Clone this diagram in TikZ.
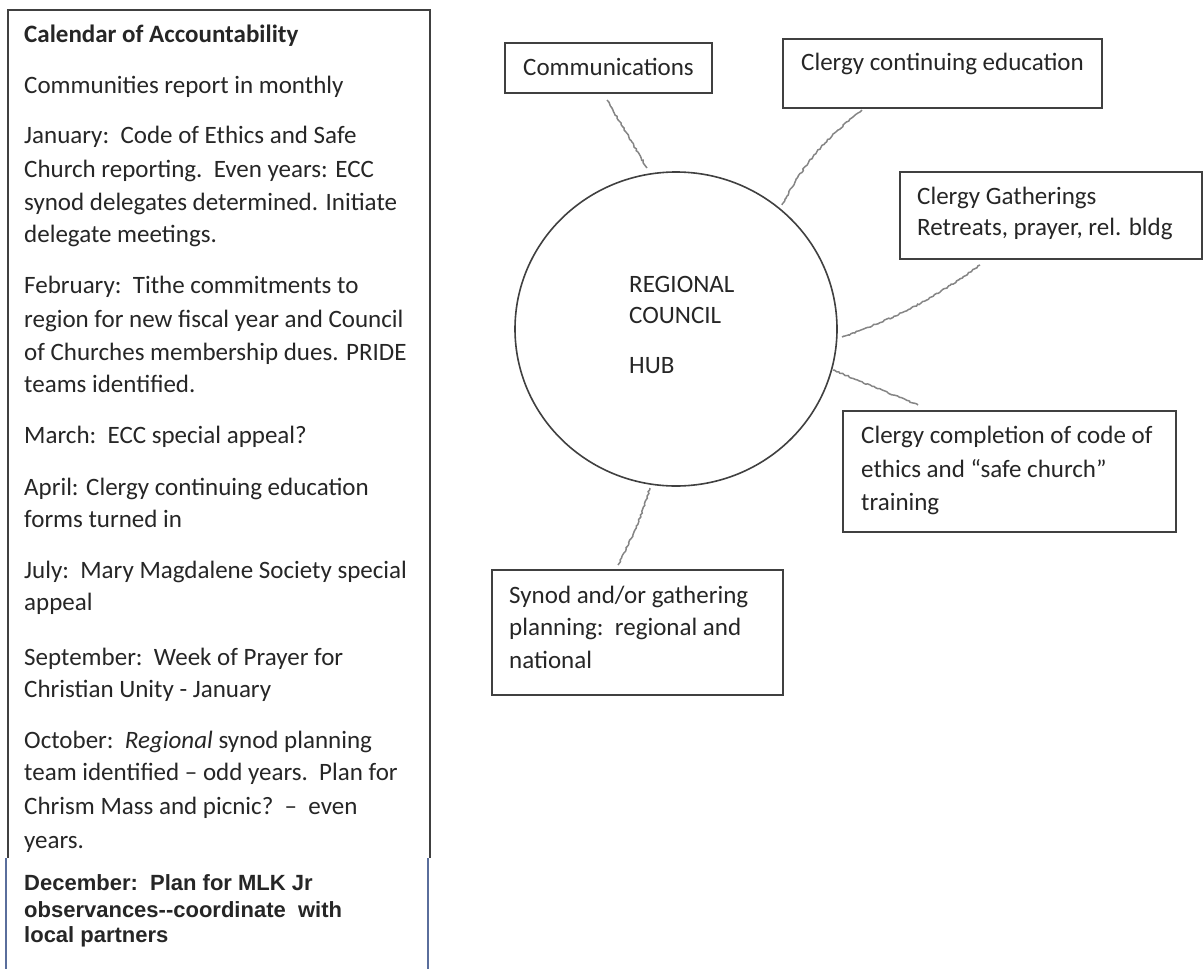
\documentclass[tikz,border=0pt]{standalone}
\usepackage{fontspec}
\setmainfont{Carlito}
\newfontfamily\arialfont{Liberation Sans}
\usetikzlibrary{shapes.geometric,decorations.pathmorphing}
\definecolor{textc}{HTML}{262626}
\definecolor{framec}{HTML}{404040}
\definecolor{bluec}{HTML}{5A6E9C}
\definecolor{linkc}{HTML}{858585}
\begin{document}
\begin{tikzpicture}[x=1pt,y=-1pt,
  txt/.style={anchor=base west,inner sep=0pt,text=textc,font=\fontsize{25}{30}\selectfont},
  dec/.style={anchor=base west,inner sep=0pt,text=textc,font=\arialfont\bfseries\fontsize{22}{26}\selectfont},
  box/.style={draw=framec,line width=1.6pt,rectangle,inner sep=0pt},
  hubshape/.style={draw=framec,line width=1.6pt,ellipse,inner sep=0pt},
  link/.style={draw=linkc,line width=1.5pt,decorate,decoration={random steps,segment length=2pt,amplitude=0.7pt}}
]
\useasboundingbox (0,0) rectangle (1204,969);
\fill[white] (0,0) rectangle (1204,969);

% left calendar frame
\draw[framec,line width=1.6pt] (8,858) -- (8,10) -- (430,10) -- (430,858);
\draw[bluec,line width=1.6pt] (6,858) -- (6,969);
\draw[bluec,line width=1.6pt] (428,858) -- (428,969);

\node[txt,font=\bfseries\fontsize{25}{30}\selectfont] (t0) at (24,42) {Calendar of Accountability};
\node[txt] (t1) at (24,93) {Communities report in monthly};
\node[txt] (t2) at (24,143) {January:\ \ Code of Ethics and Safe};
\node[txt] (t3) at (24,177) {Church reporting.\ \ Even years: ECC};
\node[txt] (t4) at (24,210) {synod delegates determined. Initiate};
\node[txt] (t5) at (24,242) {delegate meetings.};
\node[txt] (t6) at (24,293) {February:\ \ Tithe commitments to};
\node[txt] (t7) at (24,327) {region for new fiscal year and Council};
\node[txt] (t8) at (24,360) {of Churches membership dues. PRIDE};
\node[txt] (t9) at (24,392) {teams identified.};
\node[txt] (t10) at (24,443) {March:\ \ ECC special appeal?};
\node[txt] (t11) at (24,495) {April: Clergy continuing education};
\node[txt] (t12) at (24,527) {forms turned in};
\node[txt] (t13) at (24,578) {July:\ \ Mary Magdalene Society special};
\node[txt] (t14) at (24,610) {appeal};
\node[txt] (t15) at (24,665) {September:\ \ Week of Prayer for};
\node[txt] (t16) at (24,697) {Christian Unity - January};
\node[txt] (t17) at (24,748) {October:\ \ \textit{Regional} synod planning};
\node[txt] (t18) at (24,780) {team identified – odd years.\ \ Plan for};
\node[txt] (t19) at (24,814) {Chrism Mass and picnic?\ \ –\ \ even};
\node[txt] (t20) at (24,848) {years.};
\node[dec] (t21) at (24,890) {December:\ \ Plan for MLK Jr};
\node[dec] (t22) at (24,917) {observances-{}-coordinate\ \ with};
\node[dec] (t23) at (24,942) {local partners};

% hub
\node[hubshape,minimum width=322pt,minimum height=314pt] (hub) at (676,329) {};
\node[txt] (h1) at (629,292) {REGIONAL};
\node[txt] (h2) at (629,323) {COUNCIL};
\node[txt] (h3) at (629,373) {HUB};

% boxes
\node[box,minimum width=207pt,minimum height=50pt] (comm) at (608.5,68) {};
\node[txt] (comm1) at (523,75) {Communications};

\node[box,minimum width=319pt,minimum height=69pt] (cce) at (942.5,73.5) {};
\node[txt] (cce1) at (801,70) {Clergy continuing education};

\node[box,minimum width=302pt,minimum height=87pt] (cg) at (1051,215.5) {};
\node[txt] (cg1) at (917,204) {Clergy Gatherings};
\node[txt] (cg2) at (917,235) {Retreats, prayer, rel. bldg};

\node[box,minimum width=333pt,minimum height=121pt] (ccc) at (1009.5,471.5) {};
\node[txt] (ccc1) at (861,443) {Clergy completion of code of};
\node[txt] (ccc2) at (861,477) {ethics and “safe church”};
\node[txt] (ccc3) at (861,510) {training};

\node[box,minimum width=291pt,minimum height=125pt] (syn) at (637.5,632.5) {};
\node[txt] (syn1) at (509,603) {Synod and/or gathering};
\node[txt] (syn2) at (509,635) {planning:\ \ regional and};
\node[txt] (syn3) at (509,668) {national};

% connector ends
\coordinate (e1h) at (647,168);
\coordinate (e1b) at (607,100);
\coordinate (e2h) at (782,205);
\coordinate (e2b) at (862,110);
\coordinate (e3h) at (842,337);
\coordinate (e3b) at (980,265);
\coordinate (e4h) at (833,370);
\coordinate (e4b) at (918,405);
\coordinate (e5h) at (650,488);
\coordinate (e5b) at (618,565);

\draw[link] (e1h) -- (e1b);
\draw[link] (e2h) to[bend left=12] (e2b);
\draw[link] (e3h) to[bend right=8] (e3b);
\draw[link] (e4h) -- (e4b);
\draw[link] (e5h) to[bend left=5] (e5b);
\end{tikzpicture}
\end{document}
